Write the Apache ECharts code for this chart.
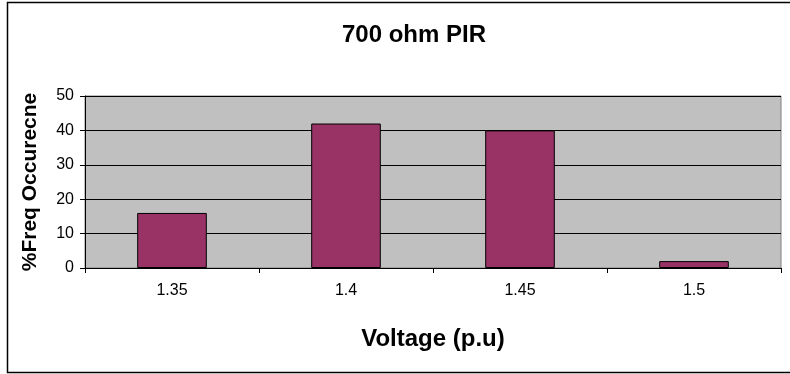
<!DOCTYPE html>
<html>
<head>
<meta charset="utf-8">
<script src="https://cdn.jsdelivr.net/npm/echarts@6/dist/echarts.min.js"></script>
<style>html,body{margin:0;padding:0;background:#fff;}#c{width:790px;height:374px;}</style>
</head>
<body>
<div id="c"></div>
<script>
const categories = ['1.35', '1.4', '1.45', '1.5'];
const freqValues = [16, 42, 40, 2];
const titleText = '700 ohm PIR';
const xName = 'Voltage (p.u)';
const yName = '%Freq Occurecne';

const chart = echarts.init(document.getElementById('c'), null, {renderer: 'canvas'});
const font = 'Liberation Sans, Arial, sans-serif';
chart.setOption({
  animation: false,
  backgroundColor: '#fff',
  title: {
    text: titleText, left: 409, top: 18, textAlign: 'center',
    textStyle: {fontFamily: font, fontSize: 24, fontWeight: 'bold', color: '#000'}
  },
  graphic: [{
    type: 'rect', shape: {x: 7.5, y: 2.5, width: 800, height: 370},
    style: {fill: null, stroke: '#000', lineWidth: 1.5}, silent: true, z: 100
  }],
  grid: {left: 85, right: 9, top: 96, bottom: 106, show: true, backgroundColor: '#c0c0c0', borderColor: '#808080', borderWidth: 1},
  xAxis: {
    type: 'category', data: categories, boundaryGap: true,
    name: xName, nameLocation: 'middle', nameGap: 59,
    nameTextStyle: {fontFamily: font, fontSize: 24, fontWeight: 'bold', color: '#000'},
    axisLine: {lineStyle: {color: '#000', width: 1}},
    axisTick: {show: true, interval: 0, length: 5, lineStyle: {color: '#000'}},
    axisLabel: {fontFamily: font, fontSize: 16, color: '#000', margin: 15, interval: 0}
  },
  yAxis: {
    type: 'value', min: 0, max: 50, interval: 10,
    name: yName, nameLocation: 'middle', nameGap: 44, nameRotate: 90,
    nameTextStyle: {fontFamily: font, fontSize: 21, fontWeight: 'bold', color: '#000'},
    axisLine: {show: true, lineStyle: {color: '#000', width: 1}},
    axisTick: {show: true, length: 5, lineStyle: {color: '#000'}},
    axisLabel: {fontFamily: font, fontSize: 16, color: '#000', margin: 11},
    splitLine: {show: true, lineStyle: {color: '#000', width: 1}}
  },
  series: [{
    type: 'bar', data: freqValues, barWidth: '40%',
    itemStyle: {color: '#993366', borderColor: '#000', borderWidth: 1}
  }]
});
</script>
</body>
</html>
